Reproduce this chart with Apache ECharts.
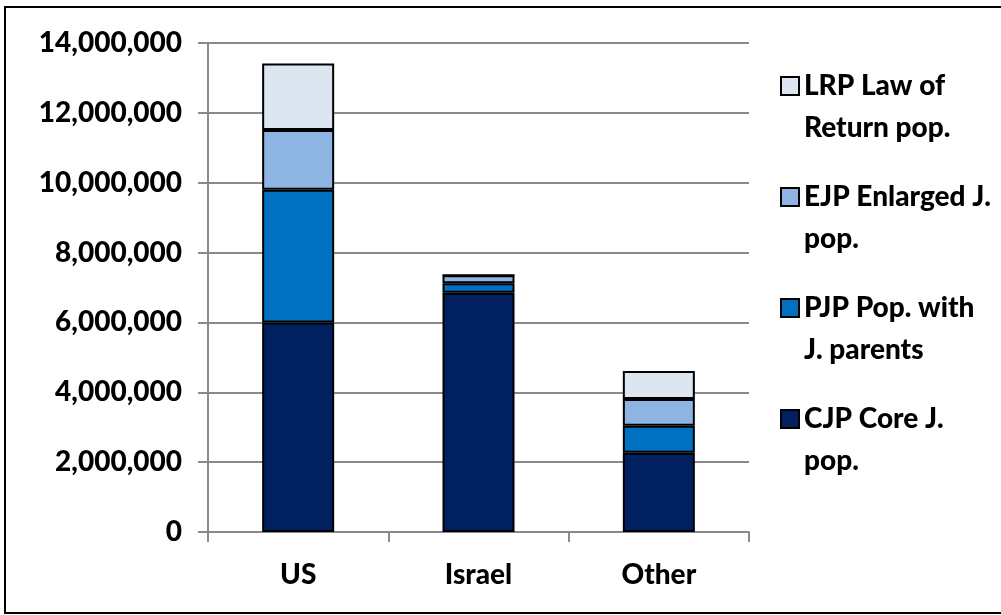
<!DOCTYPE html>
<html>
<head>
<meta charset="utf-8">
<script src="https://cdn.jsdelivr.net/npm/echarts@6/dist/echarts.min.js"></script>
<style>
  html, body { margin: 0; padding: 0; background: #fff; overflow: hidden; }
  #chart { width: 1001px; height: 615px; }
</style>
</head>
<body>
<div id="chart"></div>
<script>
// Regions along the x axis
var categories = ['US', 'Israel', 'Other'];

// Population layers, stacked bottom to top
var cjpCore      = [6000000, 6850000, 2270000];
var pjpParents   = [3800000,  270000,  770000];
var ejpEnlarged  = [1710000,  230000,  770000];
var lrpReturn    = [1900000,       0,  800000];

var seriesNames = [
  'CJP Core J. pop.',
  'PJP Pop. with J. parents',
  'EJP Enlarged J. pop.',
  'LRP Law of Return pop.'
];
// Two-line legend labels
var legendLines = {
  'LRP Law of Return pop.': ['LRP Law of', 'Return pop.'],
  'EJP Enlarged J. pop.': ['EJP Enlarged J.', 'pop.'],
  'PJP Pop. with J. parents': ['PJP Pop. with', 'J. parents'],
  'CJP Core J. pop.': ['CJP Core J.', 'pop.']
};

var yTickMax = 14000000;
var yTickStep = 2000000;

var colors = ['#002060', '#0070C0', '#8DB4E2', '#DCE6F1'];
var layers = [cjpCore, pjpParents, ejpEnlarged, lrpReturn];
var FONT = 'Lato';
var FS = 28;
var FW = 900;

var chart = echarts.init(document.getElementById('chart'), null, { renderer: 'canvas' });

var series = layers.map(function (vals, i) {
  return {
    name: seriesNames[i],
    type: 'bar',
    stack: 'pop',
    barWidth: 72,
    data: vals,
    itemStyle: { color: colors[i], borderColor: '#000', borderWidth: 2 },
    emphasis: { disabled: true }
  };
});

chart.setOption({
  animation: false,
  backgroundColor: '#fff',
  textStyle: { fontFamily: FONT },
  graphic: [{
    type: 'polyline',
    shape: { points: [[1010, 7], [5, 7], [5, 613], [1010, 613]] },
    style: { fill: 'none', stroke: '#000', lineWidth: 2 },
    silent: true,
    z: -1
  }],
  grid: { left: 208, right: 252, top: 43, bottom: 83 },
  legend: {
    orient: 'vertical',
    left: 775,
    top: 25,
    itemWidth: 18,
    itemHeight: 18,
    itemGap: -1,
    icon: 'rect',
    data: seriesNames.slice().reverse(),
    // a blank leading line keeps the swatch level with the first text line
    formatter: function (n) {
      var l = legendLines[n];
      return '{e| }\n{t|' + l[0] + '}\n{t|' + l[1] + '}';
    },
    itemStyle: { borderColor: '#000', borderWidth: 2 },
    textStyle: {
      fontFamily: FONT, fontWeight: FW, fontSize: FS, color: '#000',
      rich: {
        e: { fontSize: FS, lineHeight: 42 },
        t: { fontFamily: FONT, fontWeight: FW, fontSize: FS, color: '#000', lineHeight: 42 }
      }
    }
  },
  xAxis: {
    type: 'category',
    data: categories,
    axisLine: { lineStyle: { color: '#8a8a8a', width: 2 } },
    axisTick: { show: true, alignWithLabel: false, length: 10, lineStyle: { color: '#8a8a8a', width: 2 } },
    axisLabel: { fontFamily: FONT, fontWeight: FW, fontSize: FS, color: '#000', margin: 29 }
  },
  yAxis: {
    type: 'value',
    min: 0,
    max: yTickMax,
    interval: yTickStep,
    axisLine: { show: true, lineStyle: { color: '#8a8a8a', width: 2 } },
    axisTick: { show: true, length: 10, lineStyle: { color: '#8a8a8a', width: 2 } },
    splitLine: { lineStyle: { color: '#8a8a8a', width: 2 } },
    axisLabel: {
      fontFamily: FONT, fontWeight: FW, fontSize: FS, color: '#000', margin: 26,
      formatter: function (v) { return v.toLocaleString('en-US'); }
    }
  },
  series: series
});
</script>
</body>
</html>
